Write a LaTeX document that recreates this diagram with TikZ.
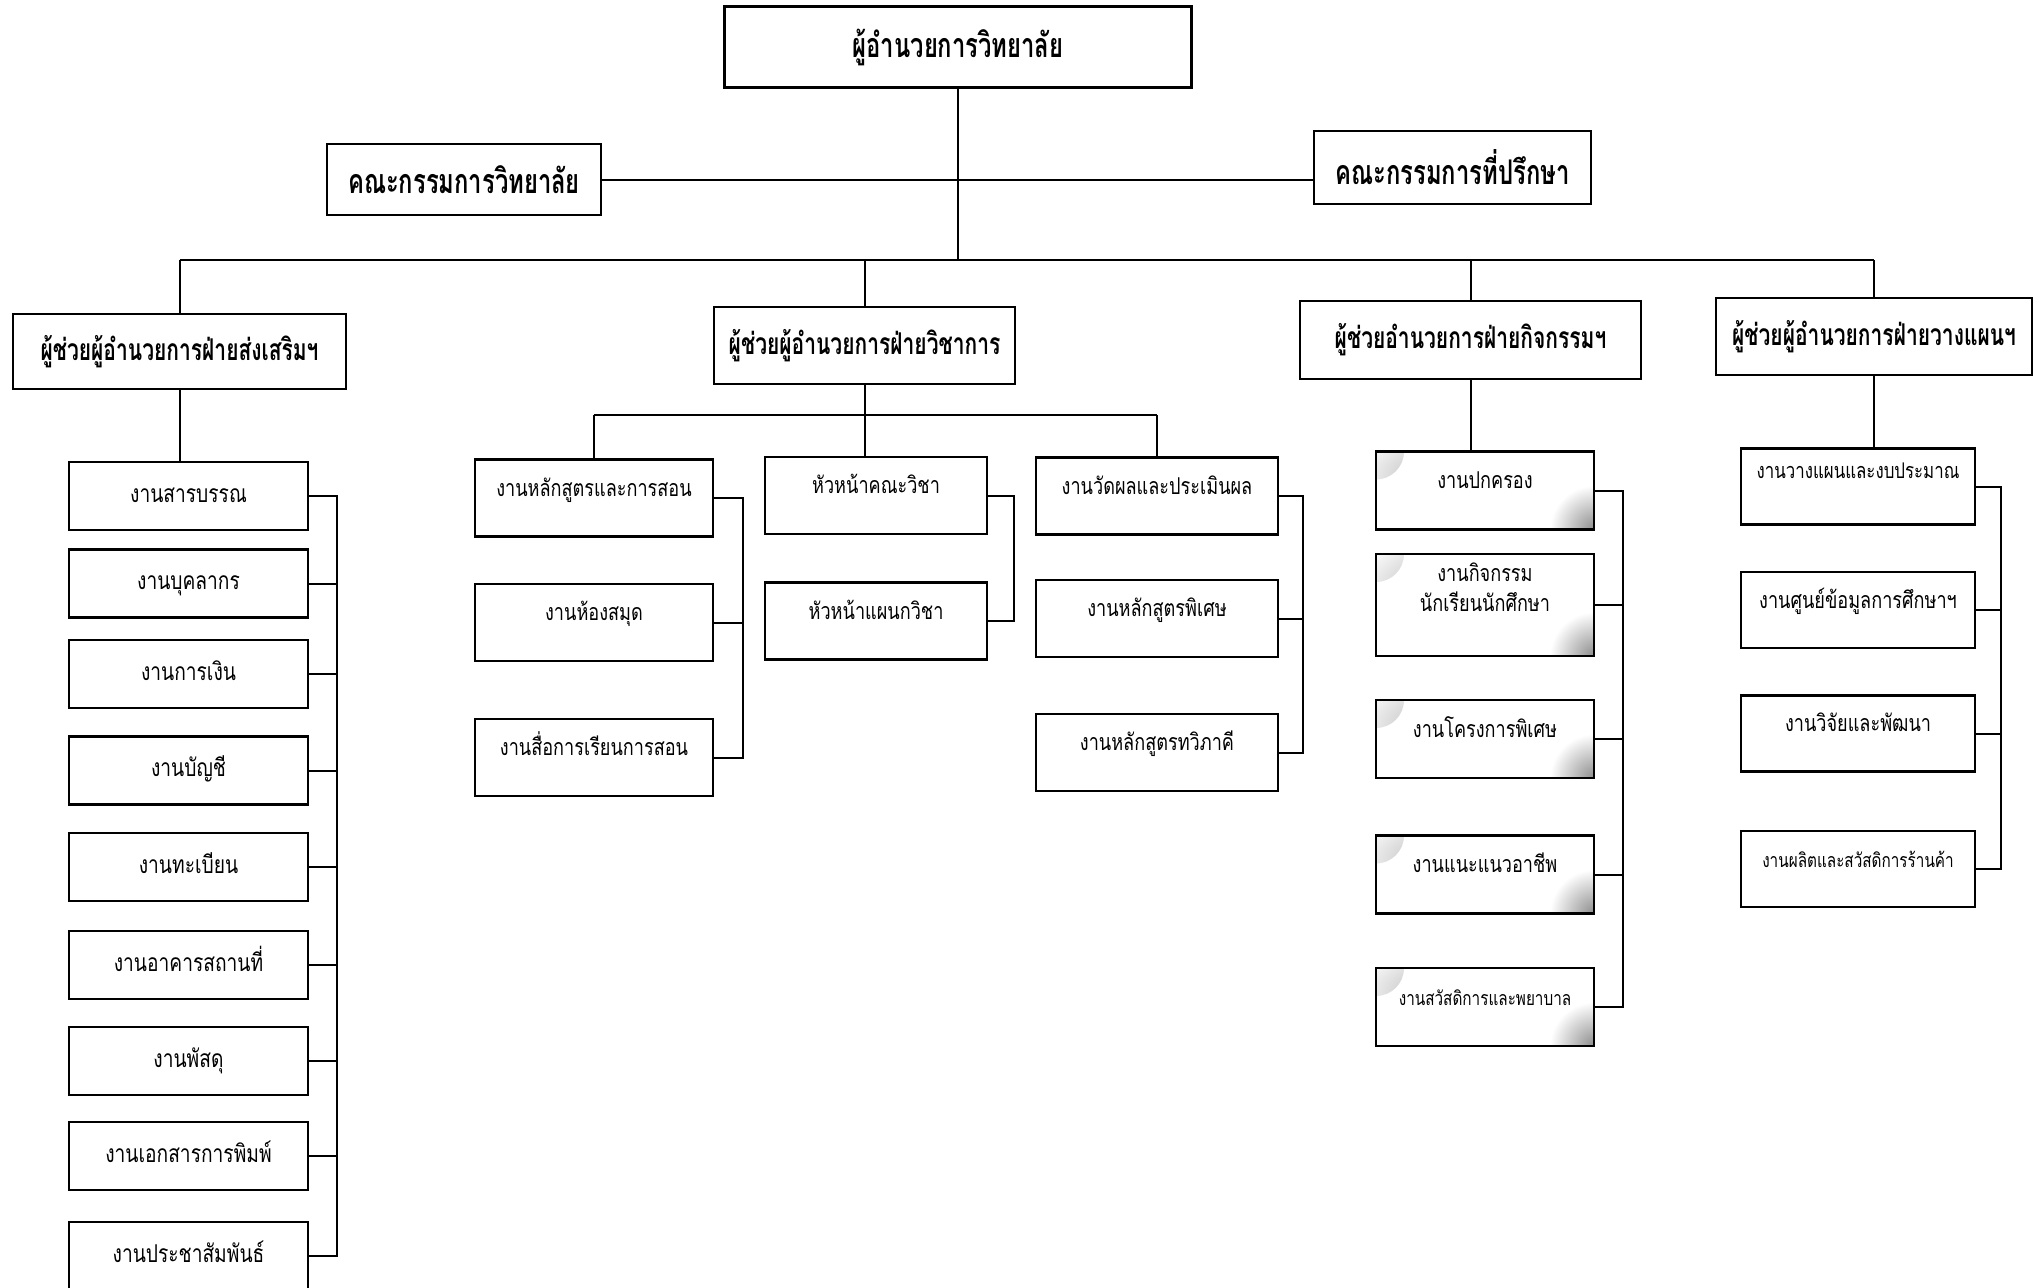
\documentclass[tikz,border=0pt]{standalone}
\usepackage{fontspec}
\newfontfamily\thaifont[Script=Thai,FakeStretch=0.78]{Loma}
\newfontfamily\thaihead[Script=Thai,FakeStretch=0.7]{Loma}

\begin{document}
\begin{tikzpicture}[x=0.5pt,y=-0.5pt,
  box/.style={draw,line width=1.2pt,align=center,inner sep=2pt},
  head/.style={box,font=\thaihead\bfseries\fontsize{17}{20}\selectfont},
  subhead/.style={box,font=\thaihead\bfseries\fontsize{15}{18}\selectfont},
  unit/.style={box,font=\thaifont\fontsize{12.3}{16}\selectfont,text height=8pt,text depth=2pt},
  upper/.style={font=\thaifont\fontsize{11.6}{15}\selectfont,text depth=10pt},
  smalltext/.style={font=\thaifont\fontsize{9.8}{13}\selectfont},
  speckle/.style={path picture={
    \shade[inner color=black!40,outer color=white] (path picture bounding box.north west) circle (14pt);
    \shade[inner color=black!45,outer color=white] (path picture bounding box.south east) circle (22pt);}},
  link/.style={line width=1pt}]
\useasboundingbox (0,0) rectangle (2040,1287);

% top of the chart
\node [head,minimum width=233.5pt,minimum height=40.5pt] (dir) at (958,47) {ผู้อำนวยการวิทยาลัย};
\node [head,minimum width=137pt,minimum height=35.5pt] (board) at (464,179.5) {คณะกรรมการวิทยาลัย};
\node [head,minimum width=138.5pt,minimum height=36.5pt] (advis) at (1452.5,167.5) {คณะกรรมการที่ปรึกษา};

% assistant directors
\node [subhead,minimum width=166.5pt,minimum height=37.5pt] (promo) at (179.5,351.5) {ผู้ช่วยผู้อำนวยการฝ่ายส่งเสริมฯ};
\node [subhead,minimum width=150.5pt,minimum height=38.5pt] (acad) at (864.5,345.5) {ผู้ช่วยผู้อำนวยการฝ่ายวิชาการ};
\node [subhead,minimum width=170.5pt,minimum height=39pt] (act) at (1470.5,340) {ผู้ช่วยอำนวยการฝ่ายกิจกรรมฯ};
\node [subhead,minimum width=158pt,minimum height=38.5pt] (plan) at (1874,336.5) {ผู้ช่วยผู้อำนวยการฝ่ายวางแผนฯ};

\coordinate (hub) at (958,260);
\draw [link] (dir.south) -- (hub);
\draw [link] (board.east) -- (advis.west |- board.east);
\draw [link] (promo.north |- hub) -- (plan.north |- hub);
\draw [link] (promo.north |- hub) -- (promo.north);
\draw [link] (acad.north |- hub) -- (acad.north);
\draw [link] (act.north |- hub) -- (act.north);
\draw [link] (plan.north |- hub) -- (plan.north);

% promotion column
\begin{scope}[every node/.style={unit,minimum width=119.5pt,minimum height=34pt}]
\node (s1) at (188.5,496) {งานสารบรรณ};
\node (s2) at (188.5,583.5) {งานบุคลากร};
\node (s3) at (188.5,674) {งานการเงิน};
\node (s4) at (188.5,770.5) {งานบัญชี};
\node (s5) at (188.5,867) {งานทะเบียน};
\node (s6) at (188.5,965) {งานอาคารสถานที่};
\node (s7) at (188.5,1061) {งานพัสดุ};
\node (s8) at (188.5,1156) {งานเอกสารการพิมพ์};
\node (s9) at (188.5,1256) {งานประชาสัมพันธ์};
\end{scope}

\draw [link] (promo.south) -- (promo.south |- s1.north);
\draw [link] (s1.east) -- ([xshift=14pt]s1.east) |- (s9.east);
\draw [link] (s2.east) -- ([xshift=14pt]s2.east);
\draw [link] (s3.east) -- ([xshift=14pt]s3.east);
\draw [link] (s4.east) -- ([xshift=14pt]s4.east);
\draw [link] (s5.east) -- ([xshift=14pt]s5.east);
\draw [link] (s6.east) -- ([xshift=14pt]s6.east);
\draw [link] (s7.east) -- ([xshift=14pt]s7.east);
\draw [link] (s8.east) -- ([xshift=14pt]s8.east);

% academic column
\begin{scope}[every node/.style={unit,upper,minimum height=38.5pt}]
\node [minimum width=119pt] (a1) at (594,498) {งานหลักสูตรและการสอน};
\node [minimum width=119pt] (a2) at (594,622.5) {งานห้องสมุด};
\node [minimum width=119pt] (a3) at (594,757.5) {งานสื่อการเรียนการสอน};
\node [minimum width=111pt] (b1) at (876,495.5) {หัวหน้าคณะวิชา};
\node [minimum width=111pt] (b2) at (876,621) {หัวหน้าแผนกวิชา};
\node [minimum width=121pt] (c1) at (1157,496) {งานวัดผลและประเมินผล};
\node [minimum width=121pt] (c2) at (1157,618.5) {งานหลักสูตรพิเศษ};
\node [minimum width=121pt] (c3) at (1157,752.5) {งานหลักสูตรทวิภาคี};
\end{scope}

\coordinate (fork) at (864.5,415);
\draw [link] (acad.south) -- (fork);
\draw [link] (a1.north |- fork) -- (c1.north |- fork);
\draw [link] (a1.north |- fork) -- (a1.north);
\draw [link] (fork) -- (fork |- b1.north);
\draw [link] (c1.north |- fork) -- (c1.north);
\draw [link] (a1.east) -- ([xshift=14.5pt]a1.east) |- (a3.east);
\draw [link] (a2.east) -- ([xshift=14.5pt]a2.east);
\draw [link] (b1.east) -- ([xshift=13pt]b1.east) |- (b2.east);
\draw [link] (c1.east) -- ([xshift=12pt]c1.east) |- (c3.east);
\draw [link] (c2.east) -- ([xshift=12pt]c2.east);

% activities column
\begin{scope}[every node/.style={unit,upper,speckle,minimum width=109pt,minimum height=39pt}]
\node (d1) at (1485,490.5) {งานปกครอง};
\node [text depth=2pt,minimum height=51pt] (d2) at (1485,605) {งานกิจกรรม\\นักเรียนนักศึกษา};
\node (d3) at (1485,739) {งานโครงการพิเศษ};
\node (d4) at (1485,874.5) {งานแนะแนวอาชีพ};
\node [smalltext] (d5) at (1485,1007) {งานสวัสดิการและพยาบาล};
\end{scope}

\draw [link] (act.south) -- (act.south |- d1.north);
\draw [link] (d1.east) -- ([xshift=14pt]d1.east) |- (d5.east);
\draw [link] (d2.east) -- ([xshift=14pt]d2.east);
\draw [link] (d3.east) -- ([xshift=14pt]d3.east);
\draw [link] (d4.east) -- ([xshift=14pt]d4.east);

% planning column
\begin{scope}[every node/.style={unit,upper,minimum width=117pt,minimum height=38pt}]
\node [font=\thaifont\fontsize{10.8}{14}\selectfont,text depth=16pt] (e1) at (1858,486.5) {งานวางแผนและงบประมาณ};
\node (e2) at (1858,610) {งานศูนย์ข้อมูลการศึกษาฯ};
\node (e3) at (1858,733.5) {งานวิจัยและพัฒนา};
\node [smalltext] (e4) at (1858,869) {งานผลิตและสวัสดิการร้านค้า};
\end{scope}

\draw [link] (plan.south) -- (plan.south |- e1.north);
\draw [link] (e1.east) -- ([xshift=12.5pt]e1.east) |- (e4.east);
\draw [link] (e2.east) -- ([xshift=12.5pt]e2.east);
\draw [link] (e3.east) -- ([xshift=12.5pt]e3.east);

\end{tikzpicture}
\end{document}
